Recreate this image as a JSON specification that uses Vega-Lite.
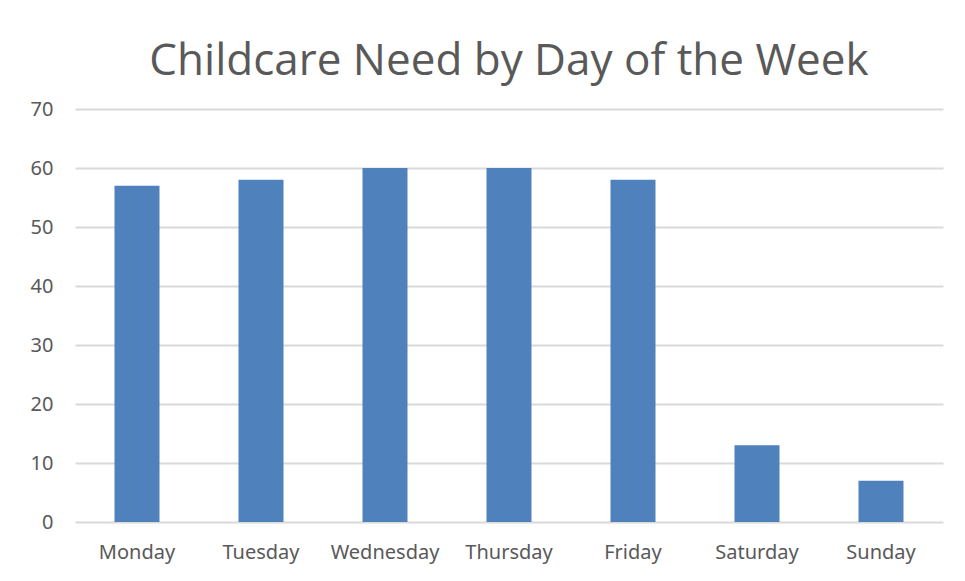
{
  "$schema": "https://vega.github.io/schema/vega-lite/v6.json",
  "autosize": "none",
  "width": 868,
  "height": 413,
  "padding": {"left": 75, "top": 109, "right": 22, "bottom": 59},
  "background": "white",
  "title": {
    "text": "Childcare Need by Day of the Week",
    "font": "Open Sans",
    "fontSize": 44,
    "fontWeight": "normal",
    "color": "#595959",
    "anchor": "middle",
    "frame": "group",
    "baseline": "alphabetic",
    "offset": -20
  },
  "data": {
    "values": [
      {"day": "Monday", "value": 57},
      {"day": "Tuesday", "value": 58},
      {"day": "Wednesday", "value": 60},
      {"day": "Thursday", "value": 60},
      {"day": "Friday", "value": 58},
      {"day": "Saturday", "value": 13},
      {"day": "Sunday", "value": 7}
    ]
  },
  "mark": {"type": "bar", "color": "#4f81bd"},
  "encoding": {
    "x": {
      "field": "day",
      "type": "nominal",
      "sort": null,
      "title": null,
      "scale": {"paddingInner": 0.637, "paddingOuter": 0.3185},
      "axis": {
        "labelAngle": 0,
        "domain": false,
        "ticks": false,
        "labelFont": "Noto Sans",
        "labelFontSize": 20,
        "labelColor": "#595959",
        "labelPadding": 20
      }
    },
    "y": {
      "field": "value",
      "type": "quantitative",
      "title": null,
      "scale": {"domain": [0, 70]},
      "axis": {
        "values": [0, 10, 20, 30, 40, 50, 60, 70],
        "domain": false,
        "ticks": false,
        "grid": true,
        "gridColor": "#d9d9d9",
        "gridWidth": 2,
        "labelFont": "Noto Sans",
        "labelFontSize": 20,
        "labelColor": "#595959",
        "labelPadding": 22
      }
    }
  },
  "config": {"view": {"stroke": null}}
}
